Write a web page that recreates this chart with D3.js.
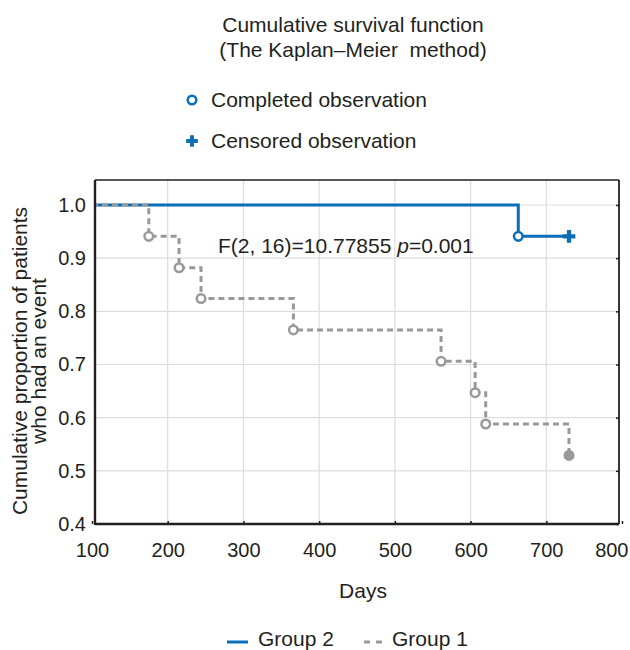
<!DOCTYPE html>
<html>
<head>
<meta charset="utf-8">
<script src="https://cdn.jsdelivr.net/npm/d3@7"></script>
<style>
  body { margin: 0; background: #fff; overflow: hidden; }
  text { font-family: "Liberation Sans", Arial, sans-serif; fill: #231f20; }
</style>
</head>
<body>
<div id="chart"></div>
<script>
// Axis ticks
const xTicks = [100, 200, 300, 400, 500, 600, 700, 800];
const yTicks = [0.4, 0.5, 0.6, 0.7, 0.8, 0.9, 1.0];

// Group 1 (dashed grey): event days and survival after each event
const group1Days = [100, 175, 215, 244, 366, 561, 606, 620, 730];
const group1Surv = [1.0, 0.941, 0.882, 0.824, 0.765, 0.706, 0.647, 0.588, 0.529];

// Group 2 (solid blue)
const group2Days = [100, 663, 730];
const group2Surv = [1.0, 0.941, 0.941];
const group2Events = [663];
const group2EventSurv = [0.941];
const group2Censored = [730];
const group2CensoredSurv = [0.941];

const blue = '#0b6fb8';
const grey = '#999999';
const ink = '#231f20';

const width = 630;
const height = 650;
const svg = d3.select('#chart')
  .append('svg')
  .attr('width', width)
  .attr('height', height);

// Plot frame (drawn a little inside the scale range, like the original)
const box = { left: 95, right: 619, top: 180, bottom: 524 };

const x = d3.scaleLinear().domain([100, 800]).range([92, 622]);
const y = d3.scaleLinear().domain([0.4, 1.0]).range([524, 205]);

svg.append('clipPath')
  .attr('id', 'plot-clip')
  .append('rect')
  .attr('x', box.left)
  .attr('y', box.top)
  .attr('width', box.right - box.left)
  .attr('height', box.bottom - box.top);

// Grid lines
svg.append('g')
  .selectAll('line')
  .data(xTicks.slice(1, -1))
  .enter()
  .append('line')
  .attr('x1', (d) => x(d)).attr('x2', (d) => x(d))
  .attr('y1', box.top).attr('y2', box.bottom)
  .attr('stroke', '#dddddd').attr('stroke-width', 1.2);

svg.append('g')
  .selectAll('line')
  .data(yTicks.slice(1))
  .enter()
  .append('line')
  .attr('x1', box.left).attr('x2', box.right)
  .attr('y1', (d) => y(d)).attr('y2', (d) => y(d))
  .attr('stroke', '#dddddd').attr('stroke-width', 1.2);

// Bottom axis: small inward ticks and labels
const xAxis = svg.append('g')
  .attr('transform', `translate(0,${box.bottom})`)
  .call(d3.axisBottom(x).tickValues(xTicks).tickSize(-3).tickPadding(19).tickFormat(d3.format('d')));
xAxis.select('.domain').remove();
xAxis.selectAll('line').attr('stroke', ink).attr('stroke-width', 1.5);
xAxis.selectAll('text').attr('font-size', '20px').attr('fill', ink);
// last label is pulled in to stay inside the page
xAxis.selectAll('.tick')
  .filter((d) => d === 800)
  .select('text')
  .attr('text-anchor', 'end')
  .attr('x', 628 - x(800));

const yAxis = svg.append('g')
  .attr('transform', `translate(${box.left},0)`)
  .call(d3.axisLeft(y).tickValues(yTicks).tickSize(0).tickPadding(9).tickFormat(d3.format('.1f')));
yAxis.select('.domain').remove();
yAxis.selectAll('text').attr('font-size', '20px').attr('fill', ink);

// Right side small ticks
const yRight = svg.append('g')
  .attr('transform', `translate(${box.right},0)`)
  .call(d3.axisRight(y).tickValues(yTicks).tickSize(-3).tickFormat(''));
yRight.select('.domain').remove();
yRight.selectAll('line').attr('stroke', ink).attr('stroke-width', 1.5);

// Step lines
const step = d3.line()
  .x((d) => x(d[0]))
  .y((d) => y(d[1]))
  .curve(d3.curveStepAfter);

const lines = svg.append('g').attr('clip-path', 'url(#plot-clip)');

lines.append('path')
  .datum(group2Days.map((d, i) => [d, group2Surv[i]]))
  .attr('d', step)
  .attr('fill', 'none')
  .attr('stroke', blue)
  .attr('stroke-width', 3);

lines.append('path')
  .datum(group1Days.map((d, i) => [d, group1Surv[i]]))
  .attr('d', step)
  .attr('fill', 'none')
  .attr('stroke', grey)
  .attr('stroke-width', 3)
  .attr('stroke-dasharray', '6,4');

// Frame
svg.append('line').attr('x1', box.left).attr('x2', box.right).attr('y1', box.top).attr('y2', box.top)
  .attr('stroke', ink).attr('stroke-width', 1.5);
svg.append('line').attr('x1', box.right).attr('x2', box.right).attr('y1', box.top).attr('y2', box.bottom)
  .attr('stroke', ink).attr('stroke-width', 1.8);
svg.append('line').attr('x1', box.left).attr('x2', box.left).attr('y1', box.top).attr('y2', box.bottom + 1)
  .attr('stroke', ink).attr('stroke-width', 2.4);
svg.append('line').attr('x1', box.left).attr('x2', box.right).attr('y1', box.bottom).attr('y2', box.bottom)
  .attr('stroke', ink).attr('stroke-width', 2.4);

// Event markers (open circles)
const g1Events = group1Days.slice(1).map((d, i) => [d, group1Surv[i + 1]]);
svg.append('g')
  .selectAll('circle')
  .data(g1Events)
  .enter()
  .append('circle')
  .attr('cx', (d) => x(d[0]))
  .attr('cy', (d) => y(d[1]))
  .attr('r', 4.3)
  .attr('fill', (d, i) => (i === g1Events.length - 1 ? grey : '#fff'))
  .attr('stroke', grey)
  .attr('stroke-width', 2.5);

svg.append('g')
  .selectAll('circle')
  .data(group2Events.map((d, i) => [d, group2EventSurv[i]]))
  .enter()
  .append('circle')
  .attr('cx', (d) => x(d[0]))
  .attr('cy', (d) => y(d[1]))
  .attr('r', 4.3)
  .attr('fill', '#fff')
  .attr('stroke', blue)
  .attr('stroke-width', 2.5);

// Censored marker (plus)
const plus = d3.symbol().type(d3.symbolCross).size(90);
svg.append('g')
  .selectAll('path')
  .data(group2Censored.map((d, i) => [d, group2CensoredSurv[i]]))
  .enter()
  .append('path')
  .attr('d', plus)
  .attr('transform', (d) => `translate(${x(d[0])},${y(d[1])})`)
  .attr('fill', blue);

// Statistic annotation
const stat = svg.append('text')
  .attr('x', 218)
  .attr('y', 253)
  .attr('font-size', '21px');
stat.append('tspan').text('F(2, 16)=10.77855 ');
stat.append('tspan').attr('font-style', 'italic').text('p');
stat.append('tspan').text('=0.001');

// Title
svg.append('text').attr('x', 353).attr('y', 32).attr('text-anchor', 'middle')
  .attr('font-size', '21px').text('Cumulative survival function');
svg.append('text').attr('x', 353).attr('y', 57).attr('text-anchor', 'middle')
  .attr('font-size', '21px').text('(The Kaplan\u2013Meier  method)')
  .style('white-space', 'pre');

// Marker legend
svg.append('circle').attr('cx', 192).attr('cy', 100).attr('r', 4.3)
  .attr('fill', '#fff').attr('stroke', blue).attr('stroke-width', 2.5);
svg.append('text').attr('x', 211).attr('y', 107).attr('font-size', '21px').text('Completed observation');
svg.append('path').attr('d', d3.symbol().type(d3.symbolCross).size(76))
  .attr('transform', 'translate(192,141)').attr('fill', blue);
svg.append('text').attr('x', 211).attr('y', 148).attr('font-size', '21px').text('Censored observation');

// Axis titles
svg.append('text').attr('x', 363).attr('y', 598).attr('text-anchor', 'middle')
  .attr('font-size', '21px').text('Days');

const yTitle = svg.append('text')
  .attr('transform', 'translate(0,361) rotate(-90)')
  .attr('text-anchor', 'middle')
  .attr('font-size', '21px');
yTitle.append('tspan').attr('x', 0).attr('y', 27).text('Cumulative proportion of patients');
yTitle.append('tspan').attr('x', 0).attr('y', 46).text('who had an event');

// Line legend
svg.append('line').attr('x1', 227).attr('x2', 248).attr('y1', 642).attr('y2', 642)
  .attr('stroke', blue).attr('stroke-width', 3);
svg.append('text').attr('x', 258).attr('y', 646).attr('font-size', '21px').text('Group 2');
svg.append('line').attr('x1', 364).attr('x2', 382).attr('y1', 642).attr('y2', 642)
  .attr('stroke', grey).attr('stroke-width', 3).attr('stroke-dasharray', '6,6');
svg.append('text').attr('x', 392).attr('y', 646).attr('font-size', '21px').text('Group 1');
</script>
</body>
</html>
